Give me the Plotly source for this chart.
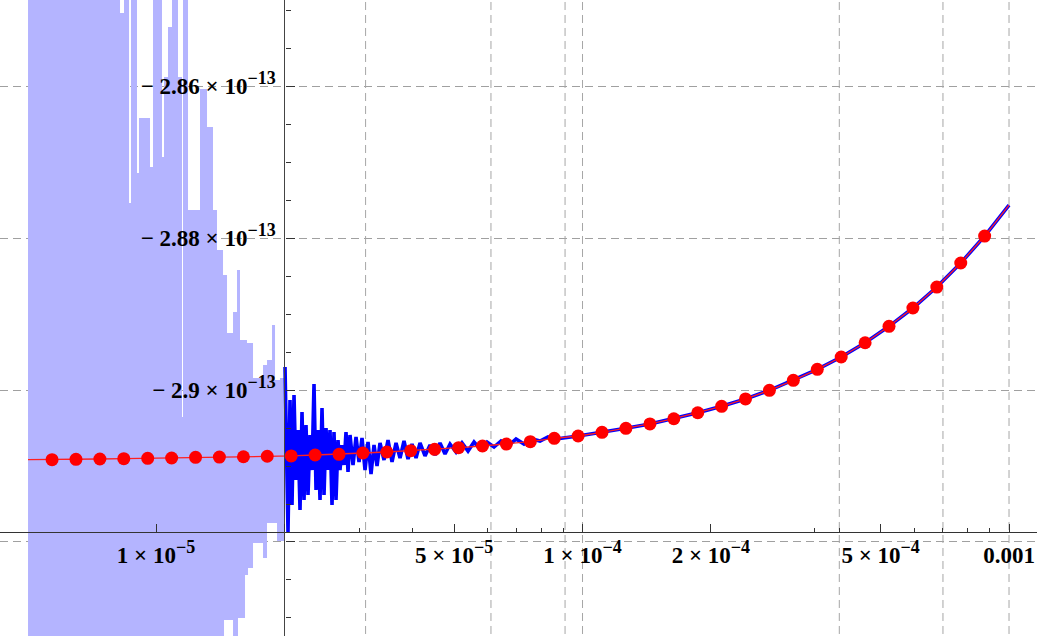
import math
import plotly.graph_objects as go

XS = 1e-6   # x values below are in units of 1e-6
YS = 1e-13  # y values below are in units of 1e-13

# ---- red reference curve (points) ----
red_x = [5.705, 6.491, 7.386, 8.403, 9.561, 10.88, 12.38, 14.08, 16.03, 18.23,
         20.75, 23.61, 26.86, 30.56, 34.77, 39.56, 45.01, 51.22, 58.27, 66.30,
         75.44, 85.84, 97.67, 111.1, 126.4, 143.9, 163.7, 186.3, 211.9, 241.1,
         274.3, 312.1, 355.2, 404.1, 459.8, 523.1, 595.2, 677.2, 770.6, 876.7]
red_y = [-2.90917, -2.90912, -2.90908, -2.90904, -2.90899, -2.90895, -2.90886, -2.90882, -2.90878, -2.90872,
         -2.90868, -2.90855, -2.90846, -2.90829, -2.90816, -2.90799, -2.90780, -2.90759, -2.90737, -2.90711,
         -2.90680, -2.90636, -2.90605, -2.90557, -2.90504, -2.90447, -2.90378, -2.90299, -2.90215, -2.90118,
         -2.90004, -2.89872, -2.89728, -2.89566, -2.89378, -2.89162, -2.88921, -2.88645, -2.88329, -2.87974]
# ends of the red line
red_start_x, red_start_y = 5.011, -2.90917
curve_end_x, curve_end_y = 1000.0, -2.87566

# ---- dark blue noisy curve (x >= 2e-5) ----
blue_noise_x = [20.065, 20.283, 20.393, 20.614, 20.838, 21.064, 21.293, 21.524, 21.758, 21.994,
                22.233, 22.474, 22.718, 22.965, 23.214, 23.466, 23.721, 23.979, 24.239, 24.502,
                24.768, 25.037, 25.309, 25.584, 25.862, 26.142, 26.426, 26.713, 27.003, 27.296,
                27.593, 27.892, 28.195, 28.501, 28.967, 29.440, 29.921, 30.409, 30.906, 31.411,
                31.923, 32.445, 32.975, 33.513, 34.245, 34.993, 35.757, 36.537, 37.335, 38.150,
                38.983, 39.834, 40.704, 41.592, 42.730, 43.899, 45.100, 46.334, 47.602, 48.905,
                50.515, 52.178, 53.896, 55.671, 57.504, 59.719, 62.019, 64.408, 66.889, 69.841,
                72.924, 76.143, 79.504, 83.014, 86.678]
blue_noise_y = [-2.89697, -2.91053, -2.91868, -2.90132, -2.91513, -2.90066, -2.91184, -2.90526, -2.91579, -2.90290,
                -2.91447, -2.90461, -2.91382, -2.90592, -2.91053, -2.89921, -2.91316, -2.90526, -2.91447, -2.90237,
                -2.91382, -2.90500, -2.91053, -2.90526, -2.91513, -2.90553, -2.91447, -2.90658, -2.91053, -2.90724,
                -2.90987, -2.90553, -2.91079, -2.90592, -2.90987, -2.90618, -2.90947, -2.90632, -2.91053, -2.90684,
                -2.91105, -2.90724, -2.91000, -2.90697, -2.90921, -2.90658, -2.90947, -2.90697, -2.90895, -2.90671,
                -2.90908, -2.90711, -2.90895, -2.90697, -2.90868, -2.90724, -2.90855, -2.90697, -2.90842, -2.90711,
                -2.90816, -2.90697, -2.90803, -2.90684, -2.90776, -2.90684, -2.90750, -2.90671, -2.90737, -2.90645,
                -2.90711, -2.90645, -2.90671, -2.90618, -2.90645]
blue_smooth_from = 22  # index in red arrays where the blue curve becomes smooth

# ---- light blue region (x < 2e-5): step envelopes ----
upper_x = [5.011, 8.234, 8.413, 8.644, 8.737, 9.025, 9.123, 9.681, 9.839, 10.329,
           10.441, 10.669, 10.902, 11.261, 11.507, 11.569, 11.886, 12.681, 13.170, 13.603,
           13.900, 14.358, 14.672, 15.155, 15.485, 15.738, 16.344, 16.883, 17.819, 18.208,
           18.706, 19.012, 19.532]
upper_y = [-2.84, -2.85039, -2.84, -2.87539, -2.84, -2.87145, -2.86421, -2.87066, -2.84, -2.86934,
           -2.85882, -2.85224, -2.84, -2.85882, -2.90355, -2.84, -2.87632, -2.86039, -2.86539, -2.87632,
           -2.88158, -2.88487, -2.89250, -2.88974, -2.88421, -2.89342, -2.89382, -2.89842, -2.89671, -2.89605,
           -2.89145, -2.89868, -2.89842]
lower_x = [5.011, 14.436, 15.155, 15.569, 16.169, 16.433, 16.883, 17.819, 18.208, 19.218]
lower_y = [-2.94, -2.93026, -2.94, -2.92999, -2.92434, -2.92342, -2.92013, -2.92211, -2.91750, -2.91987]
region_end_x = 20.0

# ---- axes ----
SUP = "<sup><span style='font-size:18px'>%s</span></sup>"
x_major = [1e-5, 2e-5, 5e-5, 1e-4, 2e-4, 5e-4, 1e-3]
x_labels = ["1 × 10" + SUP % "−5", "", "5 × 10" + SUP % "−5", "1 × 10" + SUP % "−4",
            "2 × 10" + SUP % "−4", "5 × 10" + SUP % "−4", "0.001"]
x_minor = [3e-5, 4e-5, 6e-5, 7e-5, 8e-5, 9e-5, 3.5e-4, 4e-4, 6e-4, 7e-4, 8e-4, 9e-4]
grid_x = [3.1e-5, 6.1e-5, 9.1e-5, 1e-4, 4e-4, 7e-4, 1e-3]
y_major = [-2.92, -2.90, -2.88, -2.86]
y_labels = ["", "− 2.9 × 10" + SUP % "−13", "− 2.88 × 10" + SUP % "−13", "− 2.86 × 10" + SUP % "−13"]
y_minor = [-2.93, -2.925, -2.915, -2.91, -2.905, -2.895, -2.89, -2.885, -2.875,
           -2.87, -2.865, -2.855, -2.85]
x_range_log = [-5.3658, -2.9344]
y_range = [-2.93237, -2.84868]
x_axis_at_y = -2.91868   # where horizontal axis crosses
y_axis_at_x = 2e-5       # where vertical axis crosses

fig = go.Figure()

# vertical dashed grid lines (drawn first, below everything)
gx, gy = [], []
for g in grid_x:
    gx += [g, g, None]
    gy += [(y_range[0] - 0.01) * YS, (y_range[1] + 0.01) * YS, None]
fig.add_trace(go.Scatter(x=gx, y=gy, mode="lines", hoverinfo="skip",
                         line=dict(color="#a6a6a6", width=1, dash="8px,5px")))

# light blue region polygon
px, py = [], []
for i in range(len(upper_x)):
    x1 = upper_x[i + 1] if i + 1 < len(upper_x) else region_end_x
    px += [upper_x[i] * XS, x1 * XS]
    py += [upper_y[i] * YS, upper_y[i] * YS]
for i in range(len(lower_x) - 1, -1, -1):
    x1 = lower_x[i + 1] if i + 1 < len(lower_x) else region_end_x
    px += [x1 * XS, lower_x[i] * XS]
    py += [lower_y[i] * YS, lower_y[i] * YS]
fig.add_trace(go.Scatter(x=px, y=py, mode="lines", fill="toself",
                         fillcolor="rgb(180,180,255)", line=dict(width=0),
                         hoverinfo="skip"))

# dark blue curve
bx = [v * XS for v in blue_noise_x] + [v * XS for v in red_x[blue_smooth_from:]] + [curve_end_x * XS]
by = [v * YS for v in blue_noise_y] + [v * YS for v in red_y[blue_smooth_from:]] + [curve_end_y * YS]
fig.add_trace(go.Scatter(x=bx, y=by, mode="lines",
                         line=dict(color="#0000ff", width=3.6), hoverinfo="skip"))

# red line
rx = [red_start_x * XS] + [v * XS for v in red_x] + [curve_end_x * XS]
ry = [red_start_y * YS] + [v * YS for v in red_y] + [curve_end_y * YS]
fig.add_trace(go.Scatter(x=rx, y=ry, mode="lines",
                         line=dict(color="#ff2020", width=1.3), hoverinfo="skip"))
# red points
fig.add_trace(go.Scatter(x=[v * XS for v in red_x], y=[v * YS for v in red_y], mode="markers",
                         marker=dict(color="#ff0000", size=13, line=dict(width=0)),
                         hoverinfo="skip"))

pos_x = (x_axis_at_y - y_range[0]) / (y_range[1] - y_range[0])
pos_y = (math.log10(y_axis_at_x) - x_range_log[0]) / (x_range_log[1] - x_range_log[0])

tickfont = dict(family="Liberation Serif", size=23, color="black", weight="bold")

fig.update_layout(
    width=1037, height=636,
    margin=dict(l=0, r=0, t=0, b=0),
    paper_bgcolor="white", plot_bgcolor="white",
    showlegend=False,
    xaxis=dict(type="log", range=x_range_log, anchor="free", position=pos_x,
               showline=True, linecolor="#333333", linewidth=1,
               ticks="inside", ticklen=8, tickwidth=1, tickcolor="#333333",
               tickmode="array", tickvals=x_major, ticktext=x_labels,
               tickfont=tickfont, showgrid=False, zeroline=False,
               automargin=False, ticklabelstandoff=2,
               minor=dict(tickmode="array", tickvals=x_minor, ticks="inside",
                          ticklen=4, tickwidth=1, tickcolor="#333333", showgrid=False)),
    yaxis=dict(range=[v * YS for v in y_range], anchor="free", position=pos_y, side="left",
               showline=True, linecolor="#444444", linewidth=1.2,
               ticks="inside", ticklen=9, tickwidth=1, tickcolor="#333333",
               tickmode="array", tickvals=[v * YS for v in y_major], ticktext=y_labels,
               tickfont=tickfont, showgrid=True, gridcolor="#a0a0a0", gridwidth=1,
               griddash="8px,5px", zeroline=False, automargin=False, ticklabelstandoff=4,
               minor=dict(tickmode="array", tickvals=[v * YS for v in y_minor], ticks="inside",
                          ticklen=5, tickwidth=1, tickcolor="#333333", showgrid=False)),
)

fig.write_html("out.html", config={"displayModeBar": False},
               post_script="document.body.style.margin='0';document.body.style.padding='0';"
                           "document.body.style.overflow='hidden';")
